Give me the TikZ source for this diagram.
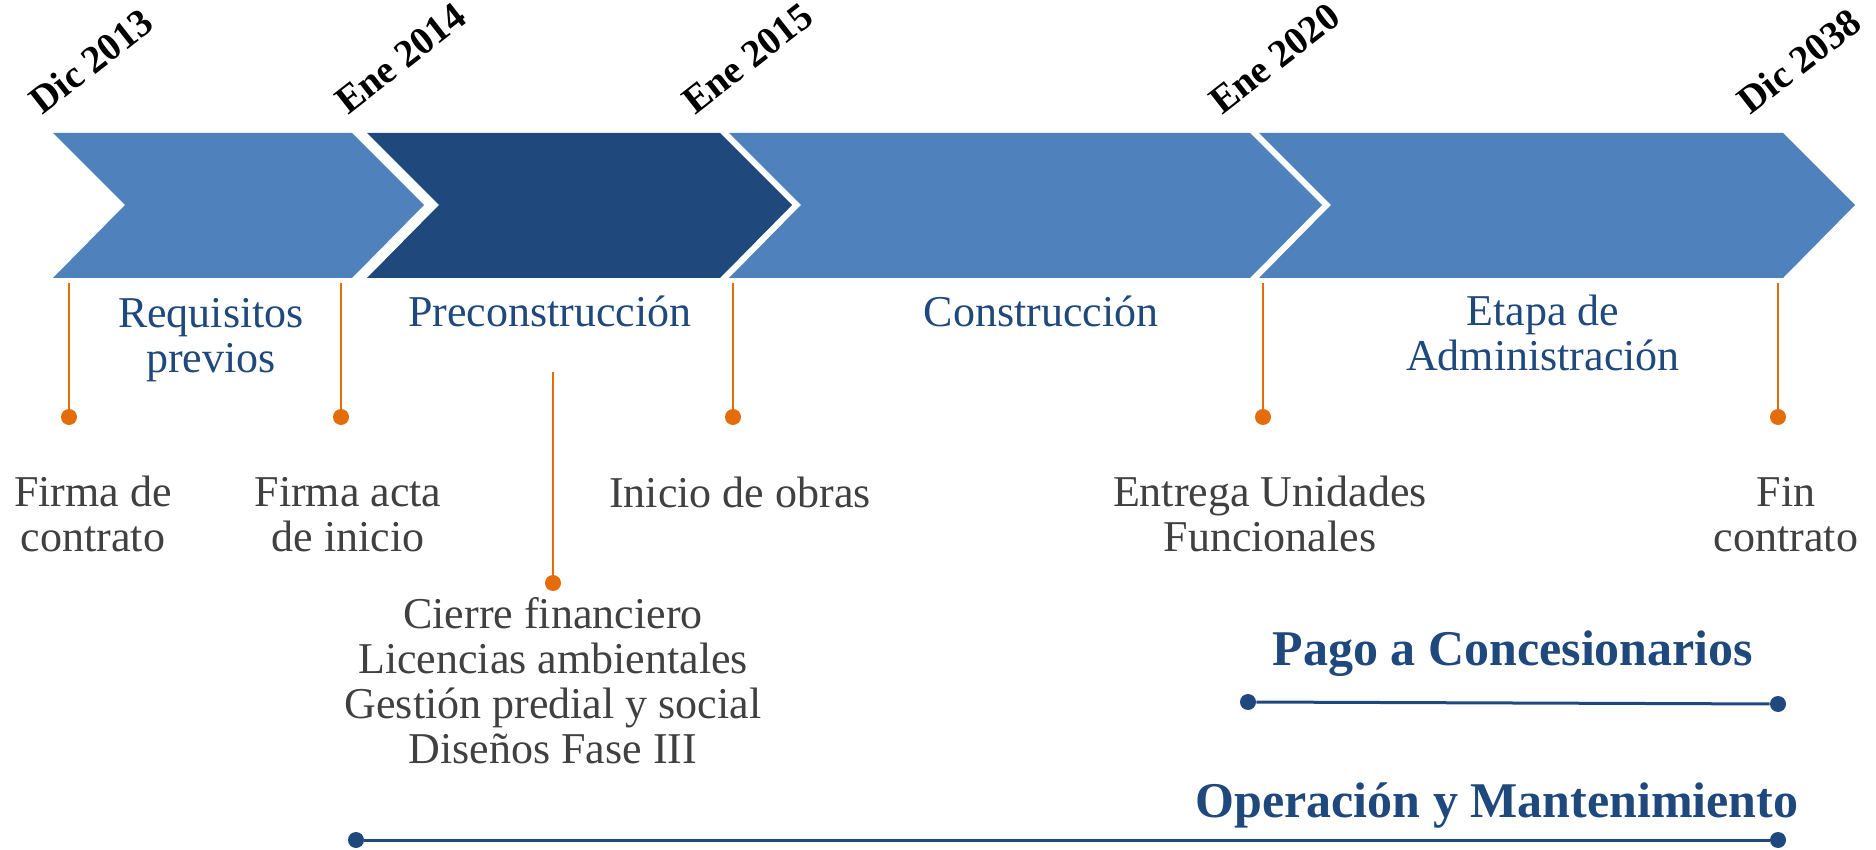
\documentclass[tikz,border=0pt]{standalone}
\usepackage{fontspec}
\setmainfont{Liberation Serif}
\usepackage{tikz}
\definecolor{FaseAzul}{RGB}{79,129,189}
\definecolor{FaseOscuro}{RGB}{31,73,125}
\definecolor{HitoNaranja}{RGB}{228,108,10}
\definecolor{TextoGris}{RGB}{64,64,64}

\begin{document}
\begin{tikzpicture}[x=0.5pt,y=-0.5pt,fecha/.style={anchor=base west,rotate=38,inner sep=0pt,font=\fontsize{19.5}{19.5}\selectfont\bfseries},etapa/.style={anchor=base,align=center,inner sep=0pt,text=FaseOscuro,font=\fontsize{22}{22.5}\selectfont},hito/.style={anchor=base,align=center,inner sep=0pt,text=TextoGris,font=\fontsize{22}{22.5}\selectfont},periodo/.style={anchor=base,inner sep=0pt,text=FaseOscuro,font=\fontsize{25}{25}\selectfont\bfseries},pto/.style={circle,fill=#1,inner sep=0pt,minimum size=8pt},bajada/.style={HitoNaranja,line width=1.25pt},barra/.style={FaseOscuro,line width=1.5pt}]
\useasboundingbox (0,0) rectangle (1876,850);
\foreach \a/\b/\c in %
{53/352/FaseAzul,367/720/FaseOscuro,729/1250/FaseAzul,1259/1783/FaseAzul} {
   \fill[fill=\c] (\a,133) -- (\b,133) -- (\b+72,205) -- (\b,278) -- (\a,278) -- (\a+72,205) -- cycle;
}
\foreach \x/\t [count=\i] in %
{42/Dic 2013,348/Ene 2014,695/Ene 2015,1222/Ene 2020,1750/Dic 2038} {
   \node[fecha] (fecha\i) at (\x,116) {\t};
}
\foreach \x [count=\i] in {69,341,733,1263,1778} {
   \coordinate (a\i) at (\x,283);
   \node[pto=HitoNaranja] (h\i) at (\x,417) {};
   \draw[bajada] (a\i) -- (h\i);
}
   \coordinate (a6) at (553,372);
   \node[pto=HitoNaranja] (h6) at (553,583) {};
   \draw[bajada] (a6) -- (h6);
   % multi-line nodes: base = last line
   \node[etapa] (req) at (211,372) {Requisitos\\previos};
   \node[etapa] (pre) at (550,327) {Preconstrucción};
   \node[etapa] (con) at (1041,327) {Construcción};
   \node[etapa] (adm) at (1543,371) {Etapa de\\Administración};
   \node[hito] (firma) at (93,552) {Firma de\\contrato};
   \node[hito] (acta) at (348,552) {Firma acta\\de inicio};
   \node[hito] (obras) at (740,508) {Inicio de obras};
   \node[hito] (entrega) at (1270,552) {Entrega Unidades\\Funcionales};
   \node[hito] (fin) at (1786,552) {Fin\\contrato};
   \node[hito] (tareas) at (553,763) {Cierre financiero\\Licencias ambientales\\Gestión predial y social\\Diseños Fase III};
   \node[periodo] (pago) at (1513,665) {Pago a Concesionarios};
   \node[pto=FaseOscuro] (p1) at (1248,702) {};
   \node[pto=FaseOscuro] (p2) at (1778,704) {};
   \draw[barra] (p1) -- (p2);
   \node[periodo] (oym) at (1497,817) {Operación y Mantenimiento};
   \node[pto=FaseOscuro] (m1) at (356,840) {};
   \node[pto=FaseOscuro] (m2) at (1778,840) {};
   \draw[barra] (m1) -- (m2);
\end{tikzpicture}
\end{document}
